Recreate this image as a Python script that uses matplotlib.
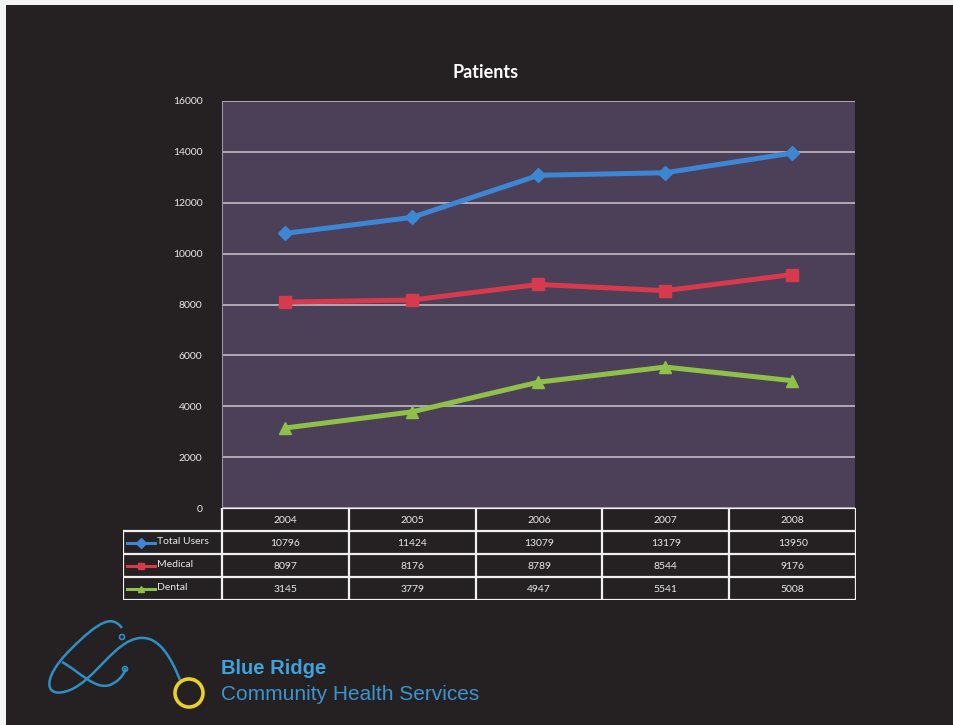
import matplotlib
matplotlib.use('Agg')
import matplotlib.pyplot as plt
from matplotlib.path import Path
from matplotlib.patches import PathPatch, Circle, Rectangle

years = ['2004', '2005', '2006', '2007', '2008']
total_users = [10796, 11424, 13079, 13179, 13950]
medical = [8097, 8176, 8789, 8544, 9176]
dental = [3145, 3779, 4947, 5541, 5008]

series_names = ['Total Users', 'Medical', 'Dental']
series_vals = [total_users, medical, dental]
series_cols = ['#3c86d4', '#d63a4c', '#8fc049']
series_mark = ['D', 's', '^']

bg = '#252122'
plot_bg = '#4c4058'
txt = '#e8e8e8'

plt.rcParams['font.family'] = ['Lato', 'DejaVu Sans']

W, H = 954, 725
fig = plt.figure(figsize=(W / 100, H / 100), dpi=100, facecolor=bg)

def fx(px):
    return px / W

def fy(py):
    return 1 - py / H

# main plot
ax = fig.add_axes([fx(222), fy(508), fx(855) - fx(222), fy(101) - fy(508)])
ax.set_facecolor(plot_bg)
ax.set_xlim(-0.5, 4.5)
ax.set_ylim(0, 16000)
ax.set_yticks(range(0, 16001, 2000))
ax.set_xticks([])
ax.grid(axis='y', color='#c9c6cc', lw=1.1)
ax.set_axisbelow(True)
for s in ['top', 'right', 'bottom']:
    ax.spines[s].set_visible(False)
ax.spines['left'].set_color('#9a96a0')
ax.tick_params(axis='y', colors=txt, labelsize=7.5, length=0, pad=14)

xs = range(len(years))
for vals, c, m in zip(series_vals, series_cols, series_mark):
    ms = 8.5 if m != 'D' else 7.5
    ax.plot(xs, vals, color=c, lw=3.6, marker=m, ms=ms, mec=c, mfc=c,
            solid_capstyle='round', clip_on=False)

fig.text(fx(486), fy(72), 'Patients', color='white', fontsize=13,
         fontweight='bold', ha='center', va='center')

# data table below the plot
lab_w = 99 / ((855 - 222) / 5)
tb = fig.add_axes([fx(123), fy(600), fx(856) - fx(123), fy(508) - fy(600)])
tb.set_xlim(-lab_w, 5)
tb.set_ylim(4, 0)
tb.axis('off')
lc = '#f0f0f0'
lw = 1.6
tb.plot([0, 5], [0, 0], color=lc, lw=lw)
for r in range(1, 5):
    tb.plot([-lab_w, 5], [r, r], color=lc, lw=lw)
for c in range(0, 6):
    tb.plot([c, c], [0, 4], color=lc, lw=lw)
tb.plot([-lab_w, -lab_w], [1, 4], color=lc, lw=lw)

for i, y in enumerate(years):
    tb.text(i + 0.5, 0.55, y, color=txt, fontsize=7.5, ha='center', va='center')
for r, (name, vals, c, m) in enumerate(zip(series_names, series_vals,
                                           series_cols, series_mark)):
    row = r + 1.5
    tb.plot([-lab_w + 0.03, -lab_w + 0.25], [row, row], color=c, lw=2.2)
    tb.plot([-lab_w + 0.14], [row], color=c, marker=m, ms=5)
    tb.text(-lab_w + 0.27, row - 0.05, name, color=txt, fontsize=7.5,
            ha='left', va='center')
    for i, v in enumerate(vals):
        tb.text(i + 0.5, row + 0.05, str(v), color=txt, fontsize=7.5,
                ha='center', va='center')

# logo and scan edges
lg = fig.add_axes([0, 0, 1, 1], facecolor='none')
lg.set_xlim(0, W)
lg.set_ylim(H, 0)
lg.axis('off')
lg.add_patch(Rectangle((0, 0), W, 5, color='#f4f4f4', lw=0))
lg.add_patch(Rectangle((0, 0), 6, H, color='#f4f4f4', lw=0))
blue = '#2f8fc4'
verts = [(122, 628), (112, 615), (100, 620), (70, 650),
         (40, 680), (45, 700), (70, 690),
         (95, 680), (115, 640), (140, 638),
         (160, 636), (172, 660), (180, 680)]
codes = [Path.MOVETO] + [Path.CURVE4] * 12
lg.add_patch(PathPatch(Path(verts, codes), fill=False, ec=blue, lw=1.8))
verts2 = [(62, 662), (80, 672), (95, 690), (110, 685),
          (122, 680), (126, 670), (125, 668)]
codes2 = [Path.MOVETO] + [Path.CURVE4] * 6
lg.add_patch(PathPatch(Path(verts2, codes2), fill=False, ec=blue, lw=1.8))
lg.add_patch(Circle((122, 637), 2.5, fill=False, ec=blue, lw=1.2))
lg.add_patch(Circle((125, 669), 2.5, fill=False, ec=blue, lw=1.2))
lg.add_patch(Circle((189, 693), 14, fill=False, ec='#e8cf2a', lw=2.6))
lg.text(221, 669, 'Blue Ridge', color='#3ea2dc', fontsize=14.5,
        fontweight='bold', ha='left', va='center', family=['Liberation Sans', 'DejaVu Sans'])
lg.text(221, 695, 'Community Health Services', color='#3a95cf', fontsize=15,
        ha='left', va='center', family=['Liberation Sans', 'DejaVu Sans'])

fig.savefig('out.png', dpi=100, facecolor=bg)
